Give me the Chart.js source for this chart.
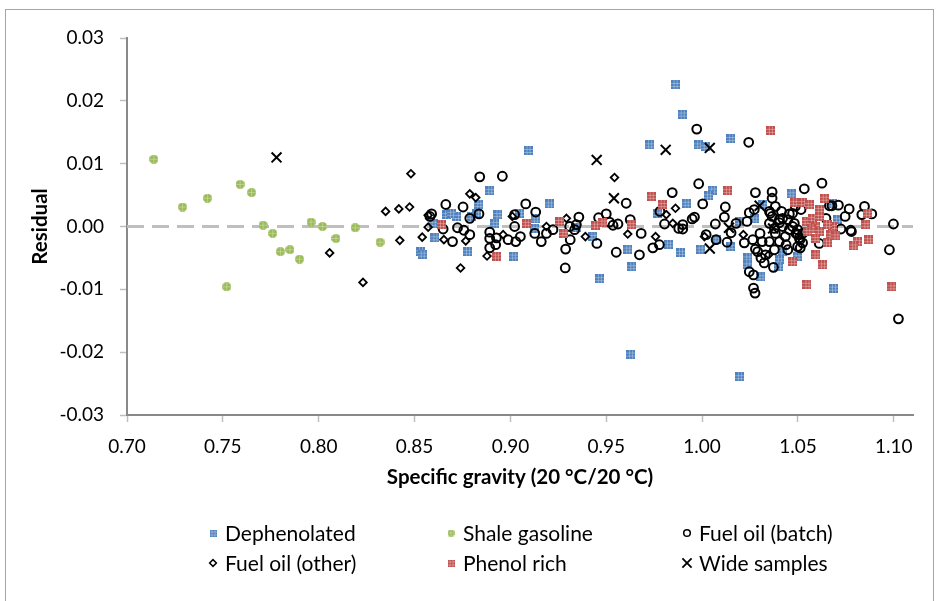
<!DOCTYPE html>
<html>
<head>
<meta charset="utf-8">
<script src="https://cdn.jsdelivr.net/npm/chart.js@4.4.1/dist/chart.umd.min.js"></script>
<style>
  html, body { margin: 0; padding: 0; background: #fff; }
  #wrap { width: 940px; height: 601px; }
</style>
</head>
<body>
<div id="wrap"><canvas id="residualChart" width="940" height="601"></canvas></div>
<script>
// residual of the specific gravity fit, one list of [sg, residual] per sample group
var xTicks = [0.70, 0.75, 0.80, 0.85, 0.90, 0.95, 1.00, 1.05, 1.10];
var yTicks = [-0.03, -0.02, -0.01, 0.00, 0.01, 0.02, 0.03];
var zeroLine = [[0.70, 0], [1.11, 0]];

var dephenolated = [
  [0.9726, 0.0130], [0.9982, 0.0130], [1.0016, 0.0127], [1.0149, 0.0140], [0.9896, 0.0179],
  [0.9859, 0.0226], [0.9092, 0.0121], [0.9627, -0.0203], [1.0194, -0.0239], [0.8892, 0.0057],
  [0.9203, 0.0036], [0.9017, -0.0047], [0.9612, -0.0036], [0.9633, -0.0064], [0.9464, -0.0083],
  [0.8776, -0.0040], [0.8531, -0.0040], [0.8540, -0.0044], [0.8606, -0.0018], [0.8918, 0.0005],
  [0.8935, 0.0019], [0.8835, 0.0035], [0.9048, 0.0021], [0.9127, -0.0003], [0.9430, -0.0016],
  [0.9344, -0.0002], [0.8667, 0.0019], [0.8719, 0.0016], [0.8693, 0.0021], [0.8823, 0.0021],
  [0.8797, 0.0016], [0.8597, 0.0005], [0.9130, 0.0012], [1.0055, 0.0058], [1.0033, 0.0049],
  [0.9917, 0.0037], [0.9769, 0.0021], [0.9824, -0.0028], [0.9887, -0.0041], [0.9990, -0.0036],
  [1.0076, -0.0020], [1.0146, -0.0032], [1.0194, 0.0008], [1.0272, 0.0012], [1.0238, -0.0050],
  [1.0238, -0.0061], [1.0307, -0.0080], [1.0403, -0.0053], [1.0420, -0.0040], [1.0495, -0.0048],
  [1.0464, 0.0052], [1.0685, -0.0098], [1.0316, 0.0035], [1.0680, 0.0036], [1.0706, 0.0011],
  [1.0399, -0.0064]
];

var shaleGasoline = [
  [0.714, 0.0107], [0.729, 0.0031], [0.742, 0.0045], [0.752, -0.0096], [0.759, 0.0067],
  [0.765, 0.0054], [0.771, 0.0002], [0.776, -0.0011], [0.780, -0.0040], [0.785, -0.0037],
  [0.790, -0.0052], [0.796, 0.0007], [0.802, 0.0000], [0.809, -0.0019], [0.819, -0.0002],
  [0.832, -0.0025]
];

var fuelOilBatch = [
  [0.8840, 0.0079], [0.8958, 0.0080], [0.8663, 0.0035], [0.8753, 0.0031], [0.8589, 0.0020],
  [0.8580, 0.0016], [0.8836, 0.0020], [0.8788, 0.0013], [0.8724, -0.0002], [0.8757, -0.0006],
  [0.8788, -0.0013], [0.8698, -0.0024], [0.8649, -0.0004], [0.9080, 0.0036], [0.9132, 0.0023],
  [0.9022, 0.0019], [0.9022, 0.0000], [0.8892, -0.0009], [0.8892, -0.0019], [0.8927, -0.0018],
  [0.8892, -0.0034], [0.8923, -0.0029], [0.8988, -0.0021], [0.9028, -0.0024], [0.9052, -0.0016],
  [0.9127, -0.0011], [0.9161, -0.0024], [0.9188, -0.0011], [0.9222, -0.0005], [0.9309, 0.0000],
  [0.9335, -0.0005], [0.9344, 0.0003], [0.9357, 0.0015], [0.9312, -0.0021], [0.9288, -0.0036],
  [0.9451, -0.0027], [0.9460, 0.0014], [0.9500, 0.0020], [0.9517, 0.0007], [0.9535, 0.0002],
  [0.9561, 0.0004], [0.9604, 0.0037], [0.9625, 0.0011], [0.9682, -0.0011], [0.9552, -0.0041],
  [0.9673, -0.0045], [0.9780, 0.0024], [0.9743, -0.0034], [0.9286, -0.0066],
  [0.9972, 0.0155], [1.0243, 0.0134], [0.9982, 0.0068], [0.9844, 0.0054], [1.0003, 0.0036],
  [1.0121, 0.0031], [1.0116, 0.0015], [1.0069, 0.0004], [0.9804, 0.0004], [0.9878, -0.0003],
  [0.9899, -0.0004], [0.9948, 0.0012], [0.9960, 0.0015], [0.9899, 0.0003], [0.9777, -0.0029],
  [1.0021, -0.0013], [1.0073, -0.0021], [1.0130, -0.0025], [1.0151, -0.0010], [1.0177, 0.0005],
  [1.0234, 0.0008], [1.0278, 0.0054], [1.0365, 0.0055], [1.0365, 0.0045], [1.0272, 0.0027],
  [1.0246, 0.0022], [1.0351, 0.0024], [1.0382, 0.0032], [1.0365, 0.0016], [1.0351, 0.0005],
  [1.0302, -0.0011], [1.0313, -0.0024], [1.0264, -0.0021], [1.0220, -0.0026], [1.0278, -0.0036],
  [1.0290, -0.0040], [1.0351, -0.0024], [1.0403, -0.0024], [1.0438, -0.0029], [1.0447, -0.0037],
  [1.0403, 0.0006], [1.0420, 0.0013], [1.0455, 0.0020], [1.0486, 0.0032], [1.0472, 0.0000],
  [1.0490, -0.0011], [1.0510, -0.0021], [1.0498, -0.0032], [1.0533, 0.0060], [1.0625, 0.0069],
  [1.0677, 0.0033], [1.0711, 0.0034], [1.0767, 0.0028], [1.0746, 0.0016], [1.0724, -0.0004],
  [1.0779, -0.0008], [1.0847, 0.0032], [1.0833, 0.0019], [1.0885, 0.0020], [1.0998, 0.0004],
  [1.0977, -0.0037], [1.0646, 0.0013], [1.0268, -0.0098], [1.0276, -0.0106], [1.0246, -0.0072],
  [1.0268, -0.0077], [1.0372, -0.0065], [1.0324, -0.0058], [1.0307, -0.0050], [1.0330, -0.0045],
  [1.0512, -0.0034], [1.0498, -0.0013], [1.0611, -0.0027], [1.1024, -0.0147], [1.0775, -0.0006],
  [1.0356, 0.0021], [1.0414, 0.0024], [1.0472, 0.0021], [1.0516, 0.0027], [1.0403, 0.0011],
  [1.0447, 0.0011], [1.0481, 0.0005], [1.0420, 0.0000], [1.0377, -0.0003], [1.0455, -0.0005],
  [1.0498, -0.0005], [1.0524, -0.0011], [1.0382, -0.0011], [1.0434, -0.0016], [1.0507, -0.0018],
  [1.0524, -0.0026], [1.0664, 0.0033], [1.0377, -0.0037]
];

var fuelOilOther = [
  [0.8349, 0.0024], [0.8418, 0.0028], [0.8474, 0.0031], [0.8481, 0.0084], [0.8540, -0.0017],
  [0.8571, -0.0001], [0.8423, -0.0022], [0.8057, -0.0042], [0.8231, -0.0089], [0.8571, 0.0018],
  [0.8653, -0.0021], [0.8788, 0.0052], [0.8819, 0.0046], [0.8767, -0.0023], [0.8878, -0.0047],
  [0.9010, 0.0016], [0.8962, -0.0013], [0.9188, 0.0000], [0.9292, 0.0013], [0.9391, -0.0016],
  [0.9543, 0.0078], [0.9612, -0.0012], [0.9757, -0.0016], [0.8740, -0.0066], [0.9861, 0.0029],
  [0.9813, 0.0019], [0.9847, 0.0005], [1.0012, -0.0016], [1.0215, -0.0013], [1.0347, -0.0045]
];

var phenolRich = [
  [1.0356, 0.0153], [0.8640, 0.0003], [0.9083, 0.0005], [0.9257, 0.0008], [0.9279, -0.0011],
  [0.8927, -0.0047], [0.9444, 0.0002], [0.9482, 0.0007], [0.9630, 0.0003], [0.9734, 0.0048],
  [0.9792, 0.0035], [1.0132, 0.0057], [1.0481, 0.0038], [1.0524, 0.0038], [1.0559, 0.0035],
  [1.0637, 0.0045], [1.0862, 0.0021], [1.0854, 0.0003], [1.0868, -0.0021], [1.0810, -0.0024],
  [1.0790, -0.0031], [1.0680, 0.0000], [1.0689, -0.0015], [1.0654, -0.0025], [1.0594, -0.0045],
  [1.0628, -0.0061], [1.0472, -0.0056], [1.0547, -0.0092], [1.0990, -0.0096], [1.0611, 0.0027],
  [1.0542, 0.0008], [1.0576, 0.0013], [1.0611, 0.0016], [1.0594, 0.0000], [1.0568, -0.0003],
  [1.0654, 0.0003], [1.0551, -0.0008], [1.0611, -0.0008], [1.0594, -0.0019], [1.0672, -0.0013],
  [1.0698, -0.0015]
];

var wideSamples = [
  [0.778, 0.0110], [0.945, 0.0106], [0.954, 0.0045], [0.981, 0.0122], [1.004, 0.0125],
  [1.004, -0.0035], [1.014, -0.0002], [1.030, 0.0033], [1.037, -0.0003]
];

var FONT = 'Lato, "Open Sans", sans-serif';
var BLUE = '#4f81bd', GREEN = '#9bbb59', RED = '#c0504d';

function toPoints(list) {
  return list.map(function (p) { return { x: p[0], y: p[1] }; });
}

// small filled square with the light grid lines of a pattern fill
function squareMarker(size, fill) {
  var c = document.createElement('canvas');
  c.width = size; c.height = size;
  var g = c.getContext('2d');
  g.fillStyle = fill;
  g.fillRect(0, 0, size, size);
  g.fillStyle = 'rgba(255,255,255,0.3)';
  for (var i = 1; i < 3; i++) {
    var p = Math.round(i * size / 3);
    g.fillRect(p, 0, 1, size);
    g.fillRect(0, p, size, 1);
  }
  return c;
}

function dotMarker(size, fill) {
  var c = document.createElement('canvas');
  c.width = size; c.height = size;
  var g = c.getContext('2d');
  g.beginPath();
  g.arc(size / 2, size / 2, size / 2, 0, Math.PI * 2);
  g.fillStyle = fill;
  g.fill();
  g.save();
  g.clip();
  g.fillStyle = 'rgba(255,255,255,0.3)';
  var m = Math.floor(size / 2);
  g.fillRect(m, 0, 1, size);
  g.fillRect(0, m, size, 1);
  g.restore();
  return c;
}

var blueSquare = squareMarker(9, BLUE);
var redSquare = squareMarker(9, RED);
var greenDot = dotMarker(9, GREEN);

// legend swatches are drawn smaller than the plot markers
var legendItems = [
  { text: 'Dephenolated', style: squareMarker(7, BLUE) },
  { text: 'Shale gasoline', style: dotMarker(7, GREEN) },
  { text: 'Fuel oil (batch)', style: 'circle', radius: 3.3, lw: 1.5 },
  { text: 'Fuel oil (other)', style: 'rectRot', radius: 3.4, lw: 1.5 },
  { text: 'Phenol rich', style: squareMarker(7, RED) },
  { text: 'Wide samples', style: 'crossRot', radius: 6.5, lw: 1.8 }
];
var legendCols = [213, 451, 687];
var legendRows = [533, 563];

var frameAndLegend = {
  id: 'frameAndLegend',
  beforeDraw: function (chart) {
    var ctx = chart.ctx;
    ctx.save();
    ctx.fillStyle = '#fff';
    ctx.fillRect(0, 0, chart.width, chart.height);
    ctx.restore();
  },
  afterDraw: function (chart) {
    var ctx = chart.ctx;
    ctx.save();
    ctx.strokeStyle = '#a6a6a6';
    ctx.lineWidth = 1;
    ctx.strokeRect(5.5, 9.5, 928, 600);

    ctx.font = '21px ' + FONT;
    ctx.textBaseline = 'middle';
    legendItems.forEach(function (item, i) {
      var x = legendCols[i % 3];
      var y = legendRows[Math.floor(i / 3)];
      ctx.strokeStyle = '#000';
      ctx.fillStyle = 'rgba(0,0,0,0)';
      ctx.lineWidth = item.lw || 0;
      Chart.helpers.drawPoint(ctx, {
        pointStyle: item.style, radius: item.radius || 4, rotation: 0, borderWidth: item.lw || 0
      }, x, y);
      ctx.fillStyle = '#000';
      ctx.fillText(item.text, x + 12, y + 1);
    });
    ctx.restore();
  }
};

var axisFont = { family: FONT, size: 19 };
var titleFont = { family: FONT, size: 20.5, weight: 'bold', lineHeight: 1.2 };

new Chart(document.getElementById('residualChart'), {
  type: 'scatter',
  data: {
    datasets: [{
      label: 'Dephenolated',
      data: toPoints(dephenolated),
      pointStyle: blueSquare,
      pointRadius: 5,
      order: 5
    }, {
      label: 'Shale gasoline',
      data: toPoints(shaleGasoline),
      pointStyle: greenDot,
      pointRadius: 5,
      order: 4
    }, {
      label: 'Fuel oil (batch)',
      data: toPoints(fuelOilBatch),
      pointStyle: 'circle',
      pointRadius: 4.4,
      borderWidth: 2,
      borderColor: '#000',
      backgroundColor: 'rgba(0,0,0,0)',
      order: 3
    }, {
      label: 'Fuel oil (other)',
      data: toPoints(fuelOilOther),
      pointStyle: 'rectRot',
      pointRadius: 3.8,
      borderWidth: 1.8,
      borderColor: '#000',
      backgroundColor: 'rgba(0,0,0,0)',
      order: 2
    }, {
      label: 'Phenol rich',
      data: toPoints(phenolRich),
      pointStyle: redSquare,
      pointRadius: 5,
      order: 1
    }, {
      label: 'Wide samples',
      data: toPoints(wideSamples),
      pointStyle: 'crossRot',
      pointRadius: 7,
      borderWidth: 2,
      borderColor: '#000',
      order: 0
    }, {
      label: 'zero',
      type: 'line',
      data: toPoints(zeroLine),
      showLine: true,
      borderColor: '#bfbfbf',
      borderWidth: 3,
      borderDash: [17, 8],
      pointRadius: 0,
      order: 6
    }]
  },
  options: {
    responsive: false,
    animation: false,
    devicePixelRatio: 1,
    layout: { padding: { left: 0, top: 38, right: 27, bottom: 106 } },
    plugins: {
      legend: { display: false },
      tooltip: { enabled: false }
    },
    scales: {
      x: {
        type: 'linear',
        min: 0.70,
        max: 1.11,
        afterBuildTicks: function (s) { s.ticks = xTicks.map(function (v) { return { value: v }; }); },
        afterFit: function (s) { s.height = 80; },
        ticks: {
          callback: function (v) { return v.toFixed(2); },
          color: '#000', font: axisFont, padding: 13, maxRotation: 0, autoSkip: false
        },
        grid: { drawOnChartArea: false, drawTicks: true, tickLength: 7, tickColor: '#bfbfbf', tickWidth: 1.5 },
        border: { color: '#898989', width: 2 },
        title: {
          display: true, text: 'Specific gravity (20 °C/20 °C)', color: '#000',
          font: titleFont, padding: { top: 0, bottom: 5 }
        }
      },
      y: {
        type: 'linear',
        min: -0.03,
        max: 0.03,
        afterBuildTicks: function (s) { s.ticks = yTicks.map(function (v) { return { value: v }; }); },
        afterFit: function (s) { s.width = 127; },
        ticks: {
          callback: function (v) { return v.toFixed(2); },
          color: '#000', font: axisFont, padding: 16, autoSkip: false
        },
        grid: { drawOnChartArea: false, drawTicks: true, tickLength: 7, tickColor: '#bfbfbf', tickWidth: 1.5 },
        border: { color: '#898989', width: 2 },
        title: {
          display: true, text: 'Residual', color: '#000',
          font: titleFont, padding: { top: 28, bottom: 0 }
        }
      }
    }
  },
  plugins: [frameAndLegend]
});
</script>
</body>
</html>
